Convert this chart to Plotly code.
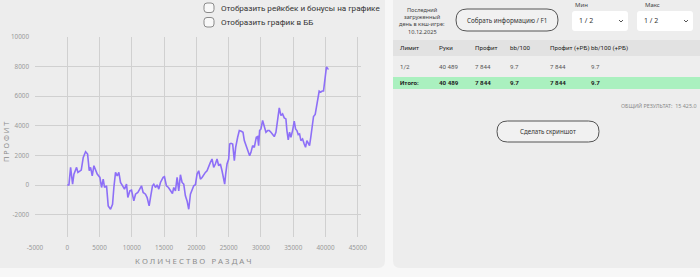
import plotly.graph_objects as go

# ---------------- data ----------------
hands = [0, 258, 515, 825, 1031, 1443, 1650, 1959, 2165, 2474, 2835, 3145, 3402, 3609, 3866, 4124,
         4382, 4640, 5052, 5310, 5567, 5774, 6083, 6341, 6702, 7011, 7217, 7475, 7733, 7990, 8248,
         8506, 8867, 9176, 9382, 9691, 9949, 10310, 10568, 10929, 11238, 11496, 11754, 12114, 12372,
         12681, 12888, 13197, 13403, 13661, 13919, 14176, 14434, 14846, 15053, 15362, 15671, 15981,
         16290, 16496, 16754, 17012, 17269, 17527, 17785, 18043, 18300, 18558, 18816, 19074, 19331,
         19589, 19847, 20105, 20362, 20620, 20878, 21136, 21393, 21651, 21909, 22167, 22424, 22682,
         22940, 23198, 23455, 23713, 23971, 24229, 24383, 24538, 24744, 25002, 25156, 25363, 25620,
         25878, 26084, 26394, 26651, 26961, 27218, 27425, 27734, 28043, 28249, 28456, 28713, 28971,
         29280, 29487, 29641, 29796, 30002, 30260, 30518, 30775, 31033, 31291, 31549, 31806, 32064,
         32322, 32580, 32837, 33095, 33353, 33611, 33868, 34023, 34229, 34435, 34642, 34899, 35157,
         35363, 35570, 35776, 35982, 36188, 36446, 36704, 36910, 37116, 37374, 37528, 37735, 37941,
         38147, 38405, 38611, 38817, 39023, 39281, 39487, 39694, 39848, 40000, 40150, 40400, 40489]
profit = [0, 23, 1198, 68, 746, 1198, 859, 972, 1017, 1876, 2260, 2102, 972, 1198, 633, 1311,
          1085, 746, 520, -158, 407, -158, -45, -1401, -1627, -1288, -158, 859, 633, 859, 181,
          -45, -271, 68, -836, -384, -339, -1062, -610, -497, -271, -45, -497, -610, -836,
          -1401, -836, -45, 68, -158, 23, -271, 181, 520, 565, -45, -158, -384,
          -565, -158, -384, 520, -384, 701, 181, 68, -723, -1062, -1627, -610, -384,
          -45, 23, 746, 972, 407, 520, 746, 859, 972, 1198, 1537, 1763, 1198,
          1424, 1763, 1311, 1424, 972, 520, 68, 746, 1424, 1763, 2780, 2825, 2780,
          1650, 2554, 3232, 3684, 3639, 3571, 3006, 2667, 2328, 1989, 2215, 2667, 2554,
          3232, 3277, 2667, 3684, 3797, 4362, 3910, 3571, 3684, 3684, 3571, 3413, 3277,
          3571, 4249, 5221, 4701, 4814, 4543, 4475, 3684, 3051, 3571, 3232, 3684, 4317,
          3797, 3684, 3413, 3458, 3006, 3119, 2780, 2554, 3006, 2780, 2667, 3277, 4136,
          4633, 4769, 5221, 5673, 6351, 6283, 6351, 6351, 6848, 7300, 7978, 7842, 7844]

x_ticks = [-5000, 0, 5000, 10000, 15000, 20000, 25000, 30000, 35000, 40000, 45000]
y_ticks = [-2000, 0, 2000, 4000, 6000, 8000, 10000]

table_header = ["Лимит", "Руки", "Профит", "bb/100", "Профит (+РБ)", "bb/100 (+РБ)"]
table_row = ["1/2", "40 489", "7 844", "9.7", "7 844", "9.7"]
table_total = ["Итого:", "40 489", "7 844", "9.7", "7 844", "9.7"]
total_result = "ОБЩИЙ РЕЗУЛЬТАТ:  15 425.0"

# ---------------- geometry ----------------
W, H = 700, 277
L, R, T, B = 35, 339, 37, 40
PW = W - L - R
PH = H - T - B
FONT = "Noto Sans"
FONT2 = "Roboto"


def px(x):
    return (x - L) / PW


def py(y):
    return (H - B - y) / PH


def rrect(x0, y0, x1, y1, r):
    pts = []
    pts.append(f"M {px(x0 + r)} {py(y0)}")
    pts.append(f"L {px(x1 - r)} {py(y0)}")
    pts.append(f"Q {px(x1)} {py(y0)} {px(x1)} {py(y0 + r)}")
    pts.append(f"L {px(x1)} {py(y1 - r)}")
    pts.append(f"Q {px(x1)} {py(y1)} {px(x1 - r)} {py(y1)}")
    pts.append(f"L {px(x0 + r)} {py(y1)}")
    pts.append(f"Q {px(x0)} {py(y1)} {px(x0)} {py(y1 - r)}")
    pts.append(f"L {px(x0)} {py(y0 + r)}")
    pts.append(f"Q {px(x0)} {py(y0)} {px(x0 + r)} {py(y0)}")
    pts.append("Z")
    return " ".join(pts)


shapes = []
annotations = []


def add_rrect(x0, y0, x1, y1, r, fill, line_color=None, line_width=0, layer="below"):
    shapes.append(dict(type="path", path=rrect(x0, y0, x1, y1, r), xref="paper", yref="paper",
                       fillcolor=fill, line=dict(color=line_color or fill, width=line_width),
                       layer=layer))


def add_rect(x0, y0, x1, y1, fill, layer="below"):
    shapes.append(dict(type="rect", x0=px(x0), x1=px(x1), y0=py(y0), y1=py(y1), xref="paper",
                       yref="paper", fillcolor=fill, line=dict(width=0), layer=layer))


def text(x, y, s, size=8, color="#333333", xanchor="left", bold=False, angle=0, family=FONT):
    annotations.append(dict(x=px(x), y=py(y), xref="paper", yref="paper", text=(f"<b>{s}</b>" if bold else s),
                            showarrow=False, xanchor=xanchor, yanchor="middle", textangle=angle,
                            font=dict(family=family, size=size, color=color)))


# panels
add_rrect(-10, -10, 385, 268, 7, "#ededed")
add_rrect(393, -10, 710, 268, 7, "#ededed")
# table rows
add_rect(393, 40, 700, 56, "#e2e2e2")
add_rect(393, 56, 700, 77, "#eeeeee")
add_rect(393, 77, 700, 89, "#aaf0bf")

# checkboxes
add_rrect(204, 3, 214, 12.5, 3, "#f8f8f8", "#8a8a8a", 1, layer="above")
add_rrect(204, 17.5, 214, 27, 3, "#f8f8f8", "#8a8a8a", 1, layer="above")
text(218.5, 7.5, "Отобразить рейкбек и бонусы на графике", size=8.1, color="#333333", family=FONT2)
text(218.5, 22.2, "Отобразить график в ББ", size=8.1, color="#333333", family=FONT2)

# axis titles
text(193, 261, "К О Л И Ч Е С Т В О   Р А З Д А Ч", size=7.8, color="#8c8c8c", xanchor="center")
text(6, 142, "П Р О Ф И Т", size=7.3, color="#8c8c8c", xanchor="center", angle=-90)

# right panel, top block
for i, s in enumerate(["Последний", "загруженный", "день в кэш-игре:", "10.12.2025"]):
    text(422, 10 + i * 7.2, s, size=5.6, color="#444444", xanchor="center")
add_rrect(456, 9, 558, 31, 11, "#f1f1f1", "#555555", 1, layer="above")
text(507, 20, "Собрать информацию / F1", size=6.3, color="#333333", xanchor="center")

text(573, 5, "Мин", size=6, color="#444444")
text(643, 5, "Макс", size=6, color="#444444")
add_rrect(572, 11, 628, 31, 3, "#ffffff", layer="above")
add_rrect(637, 11, 693, 31, 3, "#ffffff", layer="above")
text(577, 21, "1 / 2", size=7, color="#333333")
text(642, 21, "1 / 2", size=7, color="#333333")
for cx in (621, 686):
    shapes.append(dict(type="path", xref="paper", yref="paper", layer="above",
                       path=f"M {px(cx - 2)} {py(20)} L {px(cx)} {py(22)} L {px(cx + 2)} {py(20)}",
                       line=dict(color="#555555", width=1)))

# table
col_x = [398, 437, 473, 508, 548, 588.5]
for cx, s in zip(col_x, table_header):
    text(cx, 48, s, size=6.2, color="#222222", family=FONT2)
for cx, s in zip(col_x, table_row):
    text(cx, 66.5, s, size=6.2, color="#555555", family=FONT2)
for cx, s in zip(col_x, table_total):
    text(cx, 83, s, size=6.2, color="#222222", bold=True, family=FONT2)

text(699, 105.5, total_result, size=5.4, color="#8a8a8a", xanchor="right")

add_rrect(497, 121, 599, 142, 10.5, "#f1f1f1", "#555555", 1, layer="above")
text(548, 131.5, "Сделать скриншот", size=6.2, color="#333333", xanchor="center")

# ---------------- figure ----------------
fig = go.Figure()
fig.add_trace(go.Scatter(x=hands, y=profit, mode="lines",
                         line=dict(color="#8d6ff7", width=1.6), hoverinfo="skip"))

fig.update_layout(
    width=W, height=H, margin=dict(l=L, r=R, t=T, b=B, pad=0),
    paper_bgcolor="#f7f7f7", plot_bgcolor="rgba(0,0,0,0)",
    showlegend=False, shapes=shapes, annotations=annotations,
    font=dict(family=FONT),
)
fig.update_xaxes(range=[-5000, 45500], tickvals=x_ticks, ticktext=[str(v) for v in x_ticks],
                 showgrid=True, gridcolor="#d0d0d0", gridwidth=1.3, zeroline=False,
                 showline=False, ticks="", tickfont=dict(size=6.3, color="#999999"),
                 ticklabelstandoff=6, fixedrange=True)
fig.update_yaxes(range=[-3500, 10000], tickvals=y_ticks, ticktext=[str(v) for v in y_ticks],
                 showgrid=True, gridcolor="#d0d0d0", gridwidth=1.3, zeroline=False,
                 showline=False, ticks="", tickfont=dict(size=6.3, color="#999999"),
                 ticklabelstandoff=5, fixedrange=True)

fig.write_html("out.html", config={"displayModeBar": False})
